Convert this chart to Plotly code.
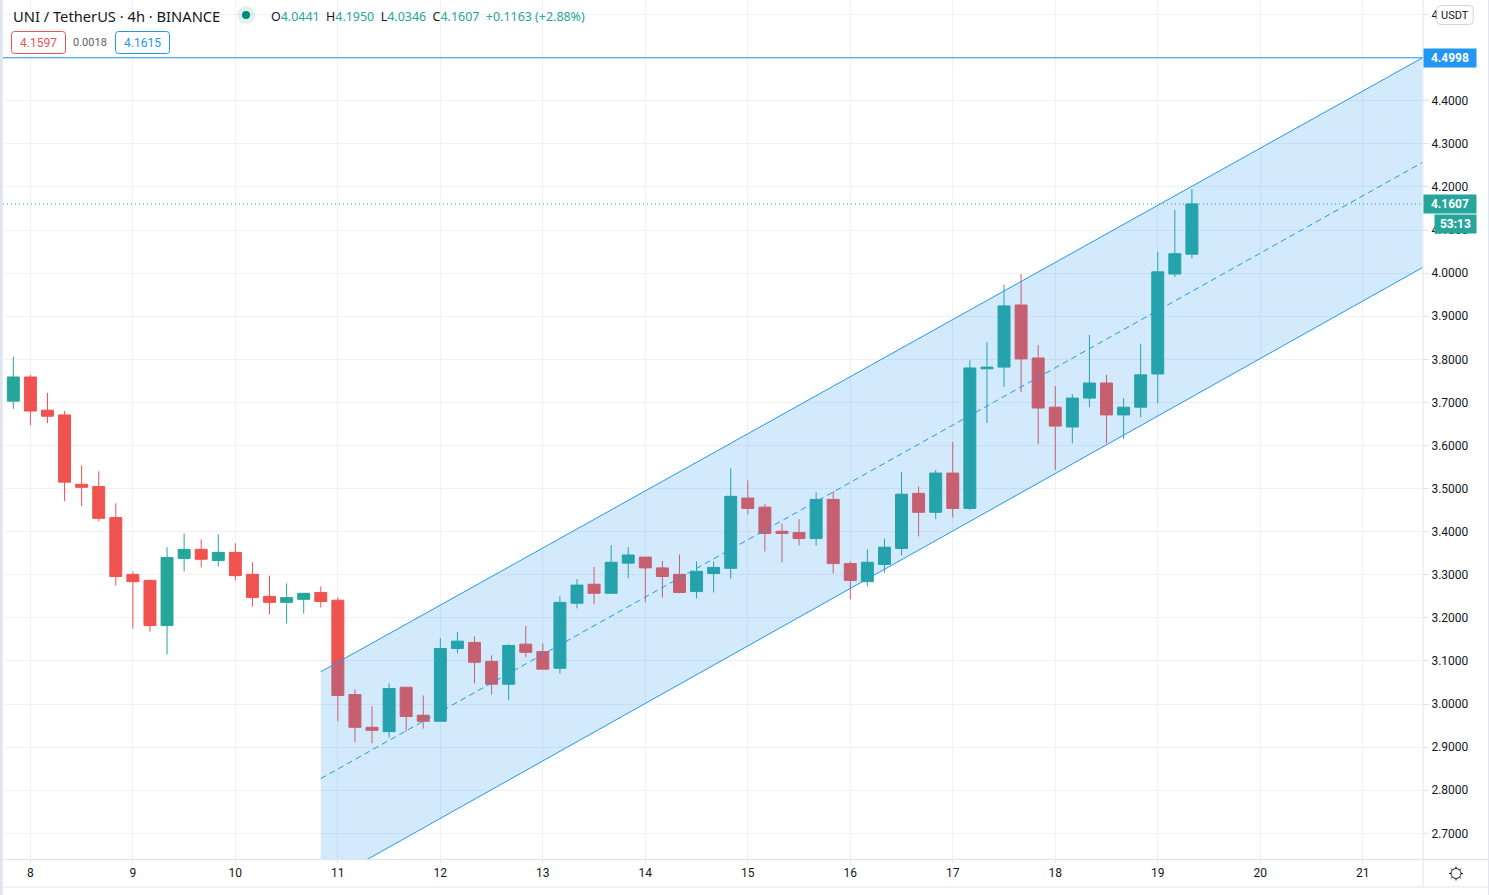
import math
import pandas as pd
import plotly.graph_objects as go

# --- data ---
start_time = "2020-12-07 20:00"
opens = [3.703,3.759,3.682,3.671,3.510,3.505,3.433,3.301,3.287,3.182,3.338,3.359,3.333,3.352,3.301,3.250,3.236,3.243,3.259,3.241,
         3.022,2.946,2.936,3.039,2.974,2.960,3.129,3.143,3.099,3.046,3.139,3.122,3.083,3.234,3.278,3.257,3.327,3.341,3.316,3.301,
         3.261,3.303,3.315,3.478,3.457,3.401,3.398,3.384,3.475,3.326,3.284,3.324,3.361,3.489,3.445,3.536,3.454,3.778,3.782,3.926,
         3.803,3.689,3.643,3.710,3.745,3.671,3.689,3.766,3.998,4.0441]
highs = [3.806,3.764,3.722,3.680,3.554,3.540,3.466,3.308,3.289,3.364,3.396,3.382,3.394,3.373,3.329,3.298,3.280,3.257,3.273,3.248,
         3.034,2.995,3.048,3.039,3.020,3.153,3.167,3.157,3.113,3.139,3.181,3.141,3.250,3.290,3.318,3.369,3.364,3.341,3.332,3.347,
         3.331,3.331,3.547,3.519,3.464,3.419,3.429,3.491,3.494,3.331,3.359,3.384,3.538,3.505,3.543,3.608,3.798,3.840,3.973,3.998,
         3.833,3.738,3.719,3.857,3.764,3.710,3.836,4.050,4.147,4.1950]
lows = [3.685,3.647,3.652,3.471,3.459,3.424,3.275,3.175,3.168,3.115,3.308,3.317,3.319,3.287,3.226,3.208,3.187,3.210,3.224,2.960,
        2.911,2.909,2.922,2.936,2.943,2.960,3.118,3.048,3.022,3.009,3.109,3.081,3.071,3.222,3.232,3.257,3.292,3.236,3.247,3.257,
        3.245,3.259,3.291,3.440,3.354,3.329,3.368,3.368,3.303,3.243,3.273,3.305,3.345,3.389,3.429,3.433,3.450,3.652,3.736,3.724,
        3.603,3.543,3.605,3.689,3.605,3.615,3.666,3.698,3.991,4.0346]
closes = [3.759,3.680,3.668,3.515,3.503,3.431,3.296,3.284,3.182,3.340,3.359,3.336,3.352,3.298,3.247,3.236,3.247,3.257,3.238,3.020,
          2.946,2.939,3.036,2.971,2.960,3.129,3.146,3.097,3.046,3.136,3.120,3.081,3.236,3.276,3.257,3.329,3.346,3.316,3.296,3.259,
          3.308,3.317,3.482,3.454,3.396,3.396,3.384,3.475,3.326,3.287,3.329,3.364,3.487,3.445,3.536,3.454,3.780,3.782,3.924,3.801,
          3.687,3.645,3.710,3.745,3.671,3.689,3.764,4.003,4.045,4.1607]

channel_time = ["2020-12-10 20:00", "2020-12-21 14:00"]
channel_upper = [3.075, 4.4998]
channel_mid = [2.827, 4.257]
channel_lower = [2.579, 4.013]

x_range = ["2020-12-07 17:35", "2020-12-21 14:07"]
y_range = [2.6404, 4.6339]
y_ticks = [2.7,2.8,2.9,3.0,3.1,3.2,3.3,3.4,3.5,3.6,3.7,3.8,3.9,4.0,4.1,4.2,4.3,4.4,4.5,4.6]
y_labels = [f"{v:.4f}" for v in y_ticks]
top_line = 4.4998
last_price = 4.1607
countdown = "53:13"
bid, spread, ask = "4.1597", "0.0018", "4.1615"
title_text = "UNI / TetherUS · 4h · BINANCE"
ohlc_text = [("O", "4.0441"), ("H", "4.1950"), ("L", "4.0346"), ("C", "4.1607")]
change_text = "+0.1163 (+2.88%)"

times = pd.date_range(start_time, periods=len(opens), freq="4h")

GREEN, RED, BLUE = "#26a69a", "#ef5350", "#2196f3"
INK, GRID, AXIS, EDGE = "#131722", "#eff1f5", "#e0e3eb", "#e0e3f0"
FONT = "Roboto"
HEAD = "Noto Sans"
W, H, PL, PR, PB = 1489, 895, 3, 1423, 859

def px(x): return (x - PL) / (PR - PL)
def py(y): return 1 - y / PB

def pill(x0, y0, x1, y1, r, line, fill="#ffffff"):
    a, b, c, d = px(x0), px(x1), py(y0), py(y1)
    rx, ry = r / (PR - PL), r / PB
    path = (f"M{a+rx},{c} L{b-rx},{c} Q{b},{c} {b},{c-ry} L{b},{d+ry} Q{b},{d} {b-rx},{d} "
            f"L{a+rx},{d} Q{a},{d} {a},{d+ry} L{a},{c-ry} Q{a},{c} {a+rx},{c} Z")
    return dict(type="path", xref="paper", yref="paper", path=path, line=dict(color=line, width=1), fillcolor=fill, layer="above")

def rect(x0, y0, x1, y1, color):
    return dict(type="rect", xref="paper", yref="paper", x0=px(x0), x1=px(x1), y0=py(y0), y1=py(y1),
                fillcolor=color, line=dict(width=0), layer="above")

def seg(x0, y0, x1, y1, color=AXIS):
    return dict(type="line", xref="paper", yref="paper", x0=px(x0), x1=px(x1), y0=py(y0), y1=py(y1), line=dict(color=color, width=1), layer="above")

def circle(cx, cy, r, color, line=None):
    return dict(type="circle", xref="paper", yref="paper", x0=px(cx - r), x1=px(cx + r), y0=py(cy - r), y1=py(cy + r),
                fillcolor=color, line=dict(width=1 if line else 0, color=line), layer="above")

def text(x, y, s, size=12, color=INK, anchor="left", family=FONT):
    return dict(xref="paper", yref="paper", x=px(x), y=py(y), text=s, showarrow=False, xanchor=anchor, yanchor="middle",
                font=dict(family=family, size=size, color=color), align=anchor)

def tag(yval, shift, x_px, width, height, s, color):
    return dict(xref="paper", yref="y", x=px(x_px), y=yval, yshift=shift, text=f"<b>{s}</b>", showarrow=False, xanchor="left", yanchor="middle",
                width=width, height=height, bgcolor=color, borderpad=0, align="center", valign="middle",
                font=dict(family=FONT, size=12, color="#ffffff"))

fig = go.Figure()
fig.add_trace(go.Candlestick(x=times, open=opens, high=highs, low=lows, close=closes,
    increasing=dict(line=dict(color=GREEN, width=1), fillcolor=GREEN),
    decreasing=dict(line=dict(color=RED, width=1), fillcolor=RED),
    whiskerwidth=0, hoverinfo="skip", showlegend=False))
fig.add_trace(go.Scatter(x=channel_time + channel_time[::-1], y=channel_upper + channel_lower[::-1], fill="toself",
    fillcolor="rgba(33,150,243,0.2)", mode="none", hoverinfo="skip", showlegend=False))
for ys, dash in ((channel_upper, "solid"), (channel_mid, "6px 4px"), (channel_lower, "solid")):
    fig.add_trace(go.Scatter(x=channel_time, y=ys, mode="lines", line=dict(color=BLUE, width=1, dash=dash), hoverinfo="skip", showlegend=False))
fig.add_trace(go.Scatter(x=x_range, y=[top_line, top_line], mode="lines", line=dict(color=BLUE, width=1), hoverinfo="skip", showlegend=False))
fig.add_trace(go.Scatter(x=x_range, y=[last_price, last_price], mode="lines", line=dict(color=GREEN, width=1, dash="1px 3px"), hoverinfo="skip", showlegend=False))

ohlc_html = "  ".join(f'<span style="color:{INK}">{k}</span>{v}' for k, v in ohlc_text) + "  " + change_text

sun_x, sun_y = 1456, 873.5
shapes = [
    rect(0, 0, 2.7, 895, EDGE), rect(1488, 0, 1489, 895, EDGE),
    seg(PR, 0, PR, 886), seg(PL, PB + 0.5, 1488, PB + 0.5), seg(PL, 887, 1488, 887, EDGE),
    circle(246, 15, 9, "rgba(38,166,154,0.15)"), circle(246, 15, 4, "#00897b"),
    pill(11.5, 31.5, 65.5, 53.5, 3, RED), pill(115.5, 31.5, 169.5, 53.5, 3, BLUE),
    pill(1436.8, 5.5, 1473.2, 24.5, 4, "#d1d4dc"),
    circle(sun_x, sun_y, 5, "rgba(0,0,0,0)", line=INK),
]
for k in range(8):
    a = k * math.pi / 4
    shapes.append(seg(sun_x + 5 * math.cos(a), sun_y + 5 * math.sin(a), sun_x + 7 * math.cos(a), sun_y + 7 * math.sin(a), color=INK))

annotations = [
    text(11, 16, title_text, size=14.7, family=HEAD),
    text(269, 16.5, ohlc_html, size=12.45, color=GREEN, family=HEAD),
    text(38.5, 43, bid, size=12, color=RED, anchor="center"),
    text(90, 43, spread, size=11, color="#5d606b", anchor="center"),
    text(142.5, 43, ask, size=12, color=BLUE, anchor="center"),
    text(1455, 15.5, "USDT", size=11, anchor="center"),
    tag(top_line, 0, 1423, 52, 18, f"{top_line:.4f}", BLUE),
    tag(last_price, 0, 1423, 52, 18, f"{last_price:.4f}", GREEN),
    tag(last_price, -20, 1434, 41, 18, countdown, GREEN),
]

fig.update_layout(
    width=W, height=H, autosize=False, paper_bgcolor="#ffffff", plot_bgcolor="#ffffff",
    margin=dict(l=PL, r=W - PR, t=0, b=H - PB, pad=0), showlegend=False, boxgap=0.0,
    font=dict(family=FONT, size=12, color=INK), shapes=shapes, annotations=annotations, hovermode=False,
    xaxis=dict(type="date", range=x_range, rangeslider=dict(visible=False), tick0="2020-12-08", dtick=86400000,
               tickformat="%-d", ticks="outside", ticklen=3, tickcolor=AXIS, gridcolor=GRID, gridwidth=1,
               showline=False, zeroline=False, tickfont=dict(family=FONT, size=12, color=INK)),
    yaxis=dict(side="right", range=y_range, tickmode="array", tickvals=y_ticks, ticktext=y_labels, ticks="outside", ticklen=5,
               tickcolor=AXIS, gridcolor=GRID, gridwidth=1, showline=False, zeroline=False,
               tickfont=dict(family=FONT, size=12, color=INK)),
)

fig.write_html("out.html", config=dict(displayModeBar=False, responsive=False),
               post_script="document.body.style.margin='0';document.body.style.overflow='hidden';")
